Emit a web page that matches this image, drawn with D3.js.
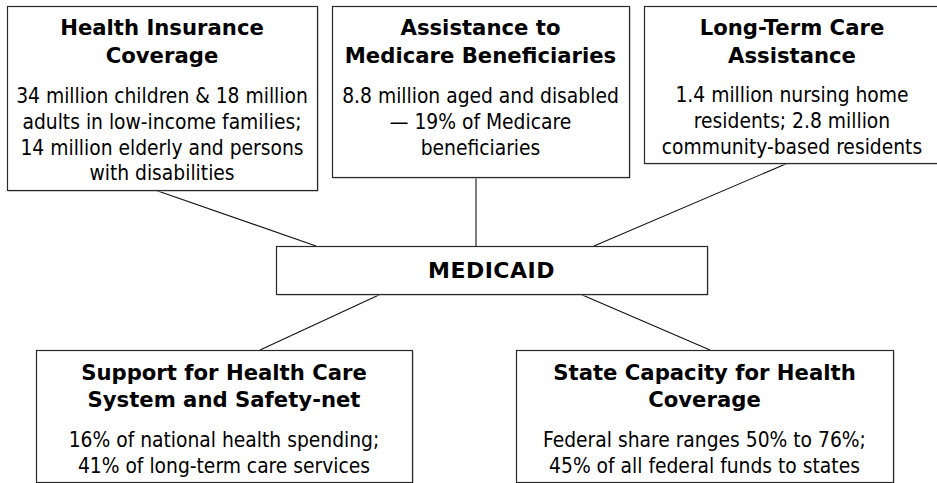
<!DOCTYPE html>
<html>
<head>
<meta charset="utf-8">
<script src="https://cdn.jsdelivr.net/npm/d3@7"></script>
<style>
  html, body { margin: 0; padding: 0; background: #ffffff; }
  svg { display: block; }
</style>
</head>
<body>
<svg id="chart" width="937" height="483"></svg>
<script>
// ---- content ----
const boxTitles = [
  ["Health Insurance", "Coverage"],
  ["Assistance to", "Medicare Beneficiaries"],
  ["Long-Term Care", "Assistance"],
  ["Support for Health Care", "System and Safety-net"],
  ["State Capacity for Health", "Coverage"]
];
const boxBodies = [
  ["34 million children & 18 million", "adults in low-income families;", "14 million elderly and persons", "with disabilities"],
  ["8.8 million aged and disabled", "\u2014 19% of Medicare", "beneficiaries"],
  ["1.4 million nursing home", "residents; 2.8 million", "community-based residents"],
  ["16% of national health spending;", "41% of long-term care services"],
  ["Federal share ranges 50% to 76%;", "45% of all federal funds to states"]
];
const centerLabel = "MEDICAID";

// ---- layout (pixels) ----
const boxRects = [ // x0, y0, x1, y1
  [7, 6, 317, 190],
  [332, 6, 629, 177],
  [644, 6, 940, 163],
  [36, 350, 412, 482],
  [516, 350, 893, 482]
];
const titleBaselines = [[35, 63], [35, 63], [35, 63], [380, 407], [380, 407]];
const bodyBaselines = [[103, 129, 155, 180], [103, 129, 155], [102, 128, 154], [447, 473], [447, 473]];
const centerRect = [276, 246, 707, 294];
const connectors = [
  [155, 190, 316, 246],
  [476, 177, 476, 246],
  [788, 163, 594, 246],
  [381, 294, 260, 350],
  [580, 294, 710, 350]
];

const TITLE_FONT = "'DejaVu Sans', sans-serif";
const BODY_FONT = "'DejaVu Sans Condensed', 'DejaVu Sans', sans-serif";
const svg = d3.select("#chart");

svg.append("rect").attr("width", 937).attr("height", 483).attr("fill", "#ffffff");

// connectors
svg.append("g").selectAll("line").data(connectors).join("line")
  .attr("x1", d => d[0]).attr("y1", d => d[1])
  .attr("x2", d => d[2]).attr("y2", d => d[3])
  .attr("stroke", "#111").attr("stroke-width", 1.1);

function drawBox(r) {
  const g = svg.append("g");
  g.append("rect")
    .attr("x", r[0] + 1.5).attr("y", r[1] + 1.5)
    .attr("width", r[2] - r[0]).attr("height", r[3] - r[1])
    .attr("fill", "#bdbdbd");
  g.append("rect")
    .attr("x", r[0] + 0.5).attr("y", r[1] + 0.5)
    .attr("width", r[2] - r[0]).attr("height", r[3] - r[1])
    .attr("fill", "#ffffff").attr("stroke", "#2a2a2a").attr("stroke-width", 1.2);
  return g;
}

boxRects.forEach((r, i) => {
  const g = drawBox(r);
  const cx = (r[0] + r[2]) / 2;
  g.selectAll("text.t").data(boxTitles[i]).join("text")
    .attr("class", "t")
    .attr("x", cx).attr("y", (d, j) => titleBaselines[i][j])
    .attr("text-anchor", "middle")
    .attr("font-family", TITLE_FONT).attr("font-weight", "bold").attr("font-size", 21.2)
    .attr("fill", "#000")
    .text(d => d);
  g.selectAll("text.b").data(boxBodies[i]).join("text")
    .attr("class", "b")
    .attr("x", cx).attr("y", (d, j) => bodyBaselines[i][j])
    .attr("text-anchor", "middle")
    .attr("font-family", BODY_FONT).attr("font-size", 20.8)
    .attr("fill", "#000")
    .text(d => d);
});

const cg = drawBox(centerRect);
cg.append("text")
  .attr("x", (centerRect[0] + centerRect[2]) / 2)
  .attr("y", 278)
  .attr("text-anchor", "middle")
  .attr("font-family", TITLE_FONT).attr("font-weight", "bold").attr("font-size", 22)
  .attr("letter-spacing", 0.5)
  .attr("fill", "#000")
  .text(centerLabel);
</script>
</body>
</html>
